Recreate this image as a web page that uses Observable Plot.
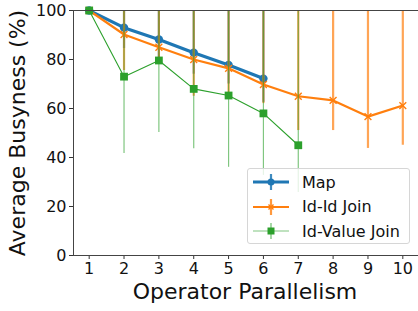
<!DOCTYPE html>
<html>
<head>
<meta charset="utf-8">
<script src="https://cdn.jsdelivr.net/npm/d3@7"></script>
<script src="https://cdn.jsdelivr.net/npm/@observablehq/plot@0.6"></script>
<style>
  html, body { margin: 0; padding: 0; background: #fff; }
  #wrap { position: relative; width: 418px; height: 311px; overflow: hidden; font-family: "DejaVu Sans", sans-serif; }
  #legend { position: absolute; left: 247px; top: 168px; width: 163px; height: 76px;
    background: rgba(255,255,255,0.8); border: 1px solid #d6d6d6; border-radius: 3px; box-sizing: border-box; }
  .row { position: absolute; left: 0; height: 24px; display: flex; align-items: center; }
  .row span { font-size: 16px; color: #111; margin-left: 12px; }
</style>
</head>
<body>
<div id="wrap"></div>
<script>
const parallelism = [1, 2, 3, 4, 5, 6, 7, 8, 9, 10];
const seriesNames = ["Map", "Id-Id Join", "Id-Value Join"];
const seriesColors = ["#1f77b4", "#ff7f0e", "#2ca02c"];

const mapBusy = [100, 93.0, 88.2, 82.8, 77.8, 72.2];
const mapLow  = [100, 84.5, 79.0, 74.0, 70.0, 62.5];
const mapHigh = [100, 100, 100, 100, 100, 100];

const idIdBusy = [100, 90.2, 85.0, 80.0, 76.4, 69.8, 65.0, 63.3, 56.7, 61.2];
const idIdLow  = [100, 75.5, 79.5, 65.0, 66.0, 62.0, 51.0, 51.0, 43.7, 45.0];
const idIdHigh = [100, 100, 100, 100, 100, 100, 100, 100, 100, 100];

const idValueBusy = [100, 73.0, 79.6, 68.0, 65.3, 58.0, 45.0];
const idValueLow  = [100, 41.6, 50.2, 43.6, 36.0, 32.7, 25.7];
const idValueHigh = [100, 100, 100, 100, 100, 100, 100];

const yTicks = [0, 20, 40, 60, 80, 100];
const xLabel = "Operator Parallelism";
const yLabel = "Average Busyness (%)";

function rows(vals, lows, highs, name) {
  return vals.map((v, i) => ({x: parallelism[i], y: v, lo: lows[i], hi: highs[i], name}));
}
const mapRows = rows(mapBusy, mapLow, mapHigh, seriesNames[0]);
const idIdRows = rows(idIdBusy, idIdLow, idIdHigh, seriesNames[1]);
const idValueRows = rows(idValueBusy, idValueLow, idValueHigh, seriesNames[2]);

const styles = [
  {data: mapRows, color: seriesColors[0], lw: 3.2, ew: 2.2, eo: 0.75, symbol: "circle", r: 4.2, fill: true},
  {data: idIdRows, color: seriesColors[1], lw: 2.2, ew: 2.2, eo: 0.7, symbol: "times", r: 3.2, fill: false},
  {data: idValueRows, color: seriesColors[2], lw: 1.1, ew: 1.2, eo: 0.6, symbol: "square", r: 4.4, fill: true}
];

const marks = [];
for (const s of styles) {
  marks.push(Plot.ruleX(s.data, {x: "x", y1: "lo", y2: "hi", stroke: s.color, strokeWidth: s.ew, strokeOpacity: s.eo, clip: true}));
  marks.push(Plot.line(s.data, {x: "x", y: "y", stroke: s.color, strokeWidth: s.lw, clip: true}));
  marks.push(Plot.dot(s.data, s.fill
    ? {x: "x", y: "y", symbol: s.symbol, r: s.r, fill: s.color, stroke: "none"}
    : {x: "x", y: "y", symbol: s.symbol, r: s.r, stroke: s.color, strokeWidth: 1.4, fill: "none"}));
}

const chart = Plot.plot({
  width: 418,
  height: 311,
  marginLeft: 73,
  marginRight: 0,
  marginTop: 10,
  marginBottom: 56,
  style: {fontFamily: "DejaVu Sans, sans-serif", background: "transparent", overflow: "visible"},
  x: {domain: [0.55, 10.45], ticks: parallelism, tickFormat: d => String(d)},
  y: {domain: [0, 100], ticks: yTicks},
  marks: [
    Plot.axisX({ticks: parallelism, tickSize: 4, tickPadding: 3, fontSize: 16, label: null, stroke: "#333", color: "#111"}),
    Plot.axisY({ticks: yTicks, tickSize: 4, tickPadding: 3, fontSize: 16, label: null, stroke: "#333", color: "#111"}),
    ...marks,
    Plot.ruleY([0], {stroke: "#444", strokeWidth: 1}),
    Plot.ruleY([100], {stroke: "#444", strokeWidth: 1}),
    Plot.ruleX([0.55], {stroke: "#444", strokeWidth: 1})
  ]
});

const wrap = document.getElementById("wrap");
wrap.appendChild(chart);

// axis labels
const svg = d3.select(chart);
svg.append("text").attr("x", 245).attr("y", 299).attr("text-anchor", "middle")
  .attr("font-size", 22).attr("fill", "#111").attr("font-family", "DejaVu Sans").text(xLabel);
svg.append("text").attr("transform", "translate(25,133) rotate(-90)").attr("text-anchor", "middle")
  .attr("font-size", 22).attr("fill", "#111").attr("font-family", "DejaVu Sans").text(yLabel);

// legend
const legend = document.createElement("div");
legend.id = "legend";
wrap.appendChild(legend);
styles.forEach((s, i) => {
  const row = document.createElement("div");
  row.className = "row";
  row.style.top = (1 + i * 24.5) + "px";
  row.style.left = "4px";
  const sw = d3.create("svg").attr("width", 38).attr("height", 24);
  sw.append("line").attr("x1", 1).attr("x2", 37).attr("y1", 12).attr("y2", 12)
    .attr("stroke", s.color).attr("stroke-width", s.lw).attr("stroke-opacity", i === 2 ? 0.6 : 1);
  sw.append("line").attr("x1", 19).attr("x2", 19).attr("y1", 4).attr("y2", 20)
    .attr("stroke", s.color).attr("stroke-width", s.ew).attr("stroke-opacity", s.eo + 0.1);
  if (s.symbol === "circle") sw.append("circle").attr("cx", 19).attr("cy", 12).attr("r", 3.5).attr("fill", s.color);
  else if (s.symbol === "square") sw.append("rect").attr("x", 15.5).attr("y", 8.5).attr("width", 7).attr("height", 7).attr("fill", s.color);
  else sw.append("path").attr("d", "M16.5,9.5L21.5,14.5M21.5,9.5L16.5,14.5").attr("stroke", s.color).attr("stroke-width", 1.4);
  row.appendChild(sw.node());
  const t = document.createElement("span");
  t.textContent = seriesNames[i];
  row.appendChild(t);
  legend.appendChild(row);
});
</script>
</body>
</html>
